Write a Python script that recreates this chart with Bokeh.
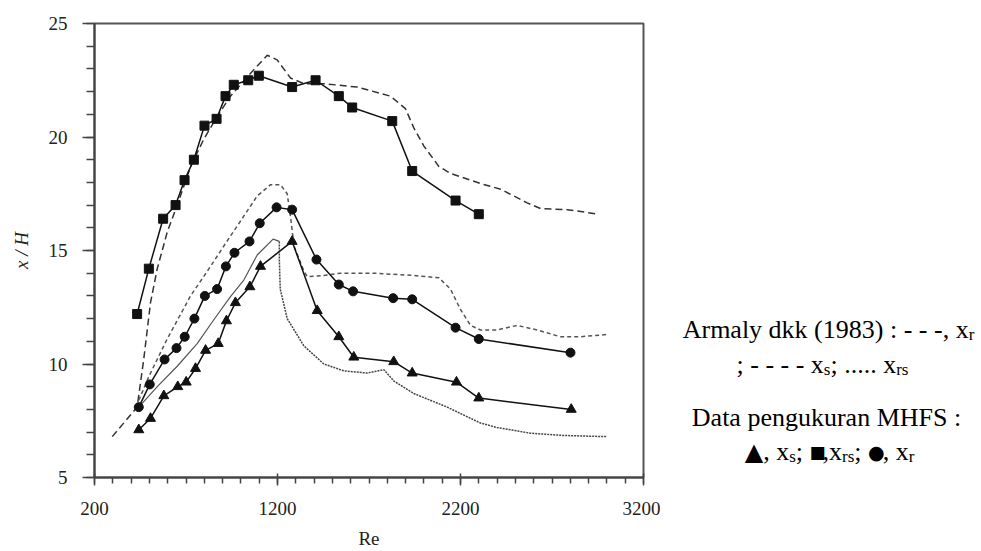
from bokeh.plotting import figure
from bokeh.layouts import row
from bokeh.models import FixedTicker, Range1d, ColumnDataSource
from bokeh.core.properties import value
from bokeh.embed import file_html
from bokeh.resources import INLINE

# ---------------- data ----------------
# MHFS measurements
sq_re = [433, 497, 575, 643, 692, 743, 801, 867, 916, 961, 1040, 1098, 1280, 1408, 1535, 1608, 1827, 1936, 2173, 2300]
sq_y = [12.2, 14.2, 16.4, 17.0, 18.1, 19.0, 20.5, 20.8, 21.8, 22.3, 22.5, 22.7, 22.2, 22.5, 21.8, 21.3, 20.7, 18.5, 17.2, 16.6]

ci_re = [442, 502, 583, 648, 693, 746, 803, 870, 918, 965, 1047, 1103, 1195, 1280, 1413, 1535, 1613, 1832, 1936, 2173, 2300, 2801]
ci_y = [8.1, 9.1, 10.2, 10.7, 11.2, 12.0, 13.0, 13.3, 14.3, 14.9, 15.4, 16.2, 16.9, 16.8, 14.6, 13.5, 13.2, 12.9, 12.85, 11.6, 11.1, 10.5]

tr_re = [442, 506, 579, 655, 701, 752, 807, 876, 921, 970, 1049, 1107, 1280, 1417, 1535, 1617, 1835, 1936, 2178, 2300, 2805]
tr_y = [7.1, 7.6, 8.6, 9.0, 9.2, 9.8, 10.6, 10.9, 11.9, 12.7, 13.4, 14.3, 15.4, 12.35, 11.2, 10.3, 10.1, 9.6, 9.2, 8.5, 8.0]

# Armaly et al. (1983) curves
top_re = [297, 433, 469, 506, 543, 597, 661, 725, 797, 870, 943, 1052, 1144, 1198, 1271, 1344, 1453, 1635, 1817, 1899,
          1945, 2000, 2082, 2145, 2309, 2419, 2564, 2637, 2783, 2956]
top_y = [6.8, 8.1, 10.2, 12.7, 14.2, 15.8, 17.2, 18.7, 19.9, 20.9, 21.8, 22.8, 23.6, 23.4, 22.6, 22.35, 22.35, 22.2, 21.8, 21.25,
         20.4, 19.6, 18.7, 18.4, 17.95, 17.7, 17.1, 16.85, 16.8, 16.6]

mid_re = [442, 497, 597, 725, 834, 907, 998, 1089, 1162, 1216, 1253, 1271, 1290, 1344, 1362, 1453, 1544, 1726, 1945, 2082,
          2145, 2200, 2255, 2309, 2400, 2509, 2619, 2746, 2855, 3001]
mid_y = [8.4, 9.45, 11.1, 13.0, 14.3, 15.2, 16.3, 17.4, 17.9, 17.9, 17.5, 16.5, 15.2, 14.1, 13.85, 13.9, 14.0, 14.0, 13.9, 13.8,
         13.3, 12.4, 11.7, 11.5, 11.5, 11.7, 11.5, 11.2, 11.2, 11.3]

rise_re = [442, 543, 652, 761, 852, 943, 1016, 1089, 1176, 1210]
rise_y = [8.1, 9.0, 9.9, 10.9, 11.95, 12.97, 13.7, 14.8, 15.5, 15.4]

fall_re = [1210, 1210, 1215, 1253, 1344, 1453, 1562, 1690, 1781, 1836, 1945, 2127, 2309, 2400, 2582, 2765, 3001]
fall_y = [15.4, 14.6, 13.3, 12.0, 10.8, 10.0, 9.7, 9.6, 9.75, 9.25, 8.7, 8.1, 7.4, 7.2, 6.95, 6.85, 6.8]

x_ticks = [200, 1200, 2200, 3200]
y_ticks = [5, 10, 15, 20, 25]
x_minor = list(range(200, 3201, 100))
y_minor = list(range(5, 26, 1))

# ---------------- main plot ----------------
SERIF = "Liberation Serif"
TOP, BOTTOM = 23, 73
p = figure(width=660, height=551, x_range=Range1d(200, 3200), y_range=Range1d(5, 25), title=None,
           output_backend="svg", toolbar_location=None,
           min_border_left=94, min_border_right=17, min_border_top=TOP, min_border_bottom=BOTTOM)
p.grid.visible = False
p.outline_line_color = "#555555"
p.outline_line_width = 2
p.background_fill_color = "white"
p.border_fill_color = "white"

p.xaxis.ticker = FixedTicker(ticks=x_ticks, minor_ticks=x_minor)
p.yaxis.ticker = FixedTicker(ticks=y_ticks, minor_ticks=y_minor)
for ax in (p.xaxis[0], p.yaxis[0]):
    ax.axis_line_color = "#444444"
    ax.axis_line_width = 2
    ax.major_tick_line_color = "#444444"
    ax.major_tick_line_width = 1.5
    ax.minor_tick_line_color = "#444444"
    ax.minor_tick_line_width = 1.5
    ax.major_label_text_font = SERIF
    ax.major_label_text_font_size = "19px"
    ax.major_label_text_color = "#222222"
    ax.axis_label_text_font = SERIF
    ax.axis_label_text_font_size = "19px"
    ax.axis_label_text_color = "#222222"

p.xaxis.major_tick_in = 4
p.xaxis.major_tick_out = 8
p.xaxis.minor_tick_in = 0
p.xaxis.minor_tick_out = 6
p.xaxis.major_label_standoff = 16
p.xaxis.axis_label = "Re"
p.xaxis.axis_label_standoff = 10
p.xaxis.axis_label_text_font_style = "normal"

p.yaxis.major_tick_in = 0
p.yaxis.major_tick_out = 12
p.yaxis.minor_tick_in = 0
p.yaxis.minor_tick_out = 8
p.yaxis.major_label_standoff = 15
p.yaxis.axis_label = "x / H"
p.yaxis.axis_label_standoff = 14
p.yaxis.axis_label_text_font_style = "italic"

# Armaly curves
p.line(top_re, top_y, line_color="#333333", line_width=1.5, line_dash="7 4")
p.line(mid_re, mid_y, line_color="#555555", line_width=1.5, line_dash="4 3")
p.line(rise_re, rise_y, line_color="#555555", line_width=1.2)
p.line(fall_re, fall_y, line_color="#444444", line_width=1.5, line_dash="2 1")

# MHFS measurements
p.line(sq_re, sq_y, line_color="#111111", line_width=1.5)
p.scatter(sq_re, sq_y, marker="square", size=9, fill_color="#111111", line_color="#111111")
p.line(ci_re, ci_y, line_color="#111111", line_width=1.5)
p.scatter(ci_re, ci_y, marker="circle", size=9, fill_color="#111111", line_color="#111111")
p.line(tr_re, tr_y, line_color="#111111", line_width=1.5)
p.scatter(tr_re, tr_y, marker="triangle", size=10, fill_color="#111111", line_color="#111111")

# ---------------- legend text panel ----------------
# The row aligns this panel's frame with the main plot's frame (pixels TOP .. 551-BOTTOM),
# so the range is expressed directly in window pixels.
W_PANEL = 981 - 660
q = figure(width=W_PANEL, height=551, x_range=Range1d(660, 981), y_range=Range1d(551 - BOTTOM, TOP),
           title=None, x_axis_type=None, y_axis_type=None, output_backend="svg", toolbar_location=None,
           min_border_left=0, min_border_right=0, min_border_top=TOP, min_border_bottom=BOTTOM)
q.grid.visible = False
q.outline_line_color = None
q.background_fill_color = "white"
q.border_fill_color = "white"

TW = {'A': 722, 'r': 333, 'm': 778, 'a': 444, 'l': 278, 'y': 500, ' ': 250, 'd': 500, 'k': 500, '(': 333, ')': 333,
      '1': 500, '9': 500, '8': 500, '3': 500, ':': 278, '-': 333, ',': 250, 'x': 500, ';': 278, '.': 250, 's': 389,
      'D': 722, 't': 278, 'p': 500, 'e': 444, 'n': 500, 'g': 500, 'u': 500, 'M': 889, 'H': 722, 'F': 556, 'S': 556}

STYLES = {
    "main": dict(font=SERIF, size=26, dy=0),
    "sub": dict(font=SERIF, size=17, dy=5),
    "tri": dict(font="DejaVu Sans", size=24, dy=0),
    "sq": dict(font="DejaVu Sans", size=17, dy=0),
    "circ": dict(font="DejaVu Sans", size=19, dy=0),
}


def seg_width(s, kind):
    st = STYLES[kind]
    if kind in ("tri", "sq", "circ"):
        return 0.77 * st["size"]
    return sum(TW.get(c, 500) for c in s) / 1000.0 * st["size"]


legend_lines = [
    ([("Armaly dkk (1983) : - - -, x", "main"), ("r", "sub")], 828, 330),
    ([("; - - - - x", "main"), ("s", "sub"), ("; ..... x", "main"), ("rs", "sub")], 822, 365),
    ([("Data pengukuran MHFS :", "main")], 826, 418),
    ([("\u25B2", "tri"), (", x", "main"), ("s", "sub"), ("; ", "main"), ("\u25A0", "sq"), (",x", "main"),
      ("rs", "sub"), ("; ", "main"), ("\u25CF", "circ"), (", x", "main"), ("r", "sub")], 829, 452),
]

groups = {k: dict(x=[], y=[], t=[]) for k in STYLES}
for segs, cx, base in legend_lines:
    total = sum(seg_width(s, k) for s, k in segs)
    xx = cx - total / 2.0
    for s, k in segs:
        groups[k]["x"].append(xx)
        groups[k]["y"].append(base + STYLES[k]["dy"])
        groups[k]["t"].append(s)
        xx += seg_width(s, k)

for k, g in groups.items():
    if not g["x"]:
        continue
    st = STYLES[k]
    src = ColumnDataSource(dict(x=g["x"], y=g["y"], t=g["t"]))
    q.text(x="x", y="y", text="t", source=src, text_font=value(st["font"]),
           text_font_size=value(f"{st['size']}px"), text_color="#000000",
           text_align="left", text_baseline="alphabetic")

layout = row(p, q)
open("out.html", "w").write(file_html(layout, INLINE))
